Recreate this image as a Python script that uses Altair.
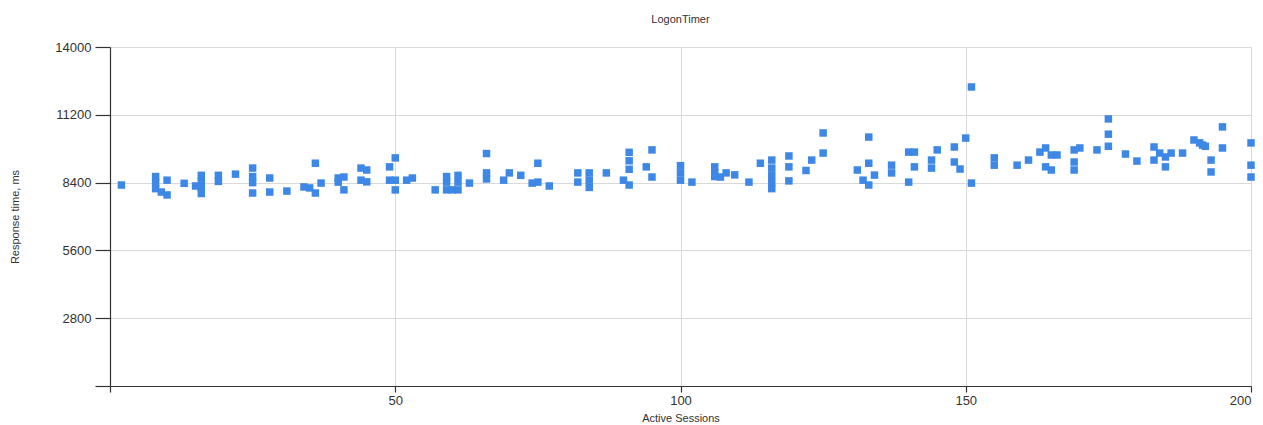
import altair as alt
import pandas as pd

# Active sessions (x) and response time in ms (y)
sessions = [
    2,
    8, 8, 8, 9, 10, 10,
    13, 15, 16, 16, 16, 16,
    19, 19, 22,
    25, 25, 25, 25,
    28, 28, 31, 34, 35,
    36, 36, 37,
    40, 40, 41, 41,
    44, 45, 44, 45,
    49, 50, 49, 50, 50,
    52, 53, 57,
    59, 59, 59, 60, 61, 61, 61,
    63, 66, 66, 66,
    69, 70, 72,
    74, 75, 75, 77,
    82, 82, 84, 84, 84,
    87, 90, 91, 91, 91, 91,
    94, 95, 95,
    100, 100, 100, 102,
    106, 106, 106, 107, 108, 109.5,
    112, 114,
    116, 116, 116, 116, 116,
    119, 119, 119,
    122, 123, 125, 125,
    131, 132, 133, 133, 133, 134,
    137, 137,
    140, 140, 141, 141,
    144, 144, 145,
    148, 148, 149, 150, 151, 151,
    155, 155, 159, 161,
    163, 164, 165, 166, 164, 165,
    169, 170, 169, 169, 173,
    175, 175, 175,
    178, 180,
    183, 183, 184, 185, 185,
    186, 188,
    190, 191, 191.5, 192,
    193, 193,
    195, 195,
    200, 200, 200,
]
response_ms = [
    8300,
    8650, 8400, 8150, 8010, 7890, 8500,
    8370, 8260, 8700, 8450, 8200, 7950,
    8700, 8450, 8750,
    9000, 8650, 8400, 7970,
    8590, 8010, 8050, 8220, 8180,
    9200, 7970, 8380,
    8420, 8590, 8630, 8100,
    9000, 8920, 8500, 8430,
    9050, 9420, 8500, 8500, 8100,
    8500, 8590, 8100,
    8650, 8420, 8100, 8100, 8700, 8420, 8100,
    8380, 9600, 8800, 8550,
    8500, 8800, 8700,
    8380, 8420, 9200, 8260,
    8800, 8420, 8800, 8500, 8200,
    8800, 8500, 8300, 9650, 9300, 8950,
    9050, 9750, 8630,
    9100, 8800, 8500, 8420,
    9050, 8800, 8650, 8630, 8800, 8720,
    8420, 9200,
    9330, 9000, 8700, 8400, 8150,
    9500, 9050, 8470,
    8900, 9330, 10450, 9620,
    8920, 8500, 10280, 9200, 8300, 8710,
    9120, 8800,
    8420, 9660, 9660, 9050,
    9330, 9000, 9750,
    9870, 9250, 8960, 10240, 12350, 8380,
    9420, 9120, 9120, 9330,
    9660, 9830, 9540, 9540, 9050, 8920,
    9750, 9830, 9250, 8920, 9750,
    11030, 10400, 9900,
    9580, 9290,
    9870, 9330, 9620, 9460, 9050,
    9620, 9620,
    10160, 10040, 9950, 9900,
    9330, 8840,
    10700, 9830,
    10040, 9120, 8630,
]

x_ticks = [0, 50, 100, 150, 200]
y_ticks = [0, 2800, 5600, 8400, 11200, 14000]

df = pd.DataFrame({"sessions": sessions, "response": response_ms})

FONT = "Liberation Sans"

chart = (
    alt.Chart(df)
    .mark_square(size=56, color="#3d87e6", opacity=1, filled=True)
    .encode(
        x=alt.X(
            "sessions:Q",
            scale=alt.Scale(domain=[0, 200], nice=False, zero=False),
            axis=alt.Axis(
                title="Active Sessions",
                values=x_ticks,
                labelExpr="datum.value == 0 ? '' : datum.label",
                tickSize=6,
                labelPadding=2,
                titlePadding=5,
            ),
        ),
        y=alt.Y(
            "response:Q",
            scale=alt.Scale(domain=[0, 14000], nice=False),
            axis=alt.Axis(
                title="Response time, ms",
                values=y_ticks,
                format="d",
                labelExpr="datum.value == 0 ? '' : datum.label",
                tickSize=15,
                labelPadding=4,
                titlePadding=34,
            ),
        ),
    )
    .properties(
        width=1141,
        height=339,
        title=alt.TitleParams(
            "LogonTimer",
            fontSize=11,
            fontWeight="normal",
            font=FONT,
            color="#333333",
            anchor="middle",
            offset=16,
        ),
        autosize=alt.AutoSizeParams(type="none"),
        padding={"left": 102, "top": 39, "right": 4, "bottom": 44},
    )
    .configure_view(stroke=None)
    .configure_axis(
        labelFont=FONT,
        titleFont=FONT,
        labelFontSize=13,
        titleFontSize=11,
        titleFontWeight="normal",
        labelColor="#333333",
        titleColor="#333333",
        domainColor="#333333",
        tickColor="#333333",
        domainWidth=1.2,
        tickWidth=1.2,
        gridColor="#d9d9d9",
        gridWidth=1,
        grid=True,
    )
)

chart.save("out.html", embed_options={"renderer": "svg", "actions": False})
